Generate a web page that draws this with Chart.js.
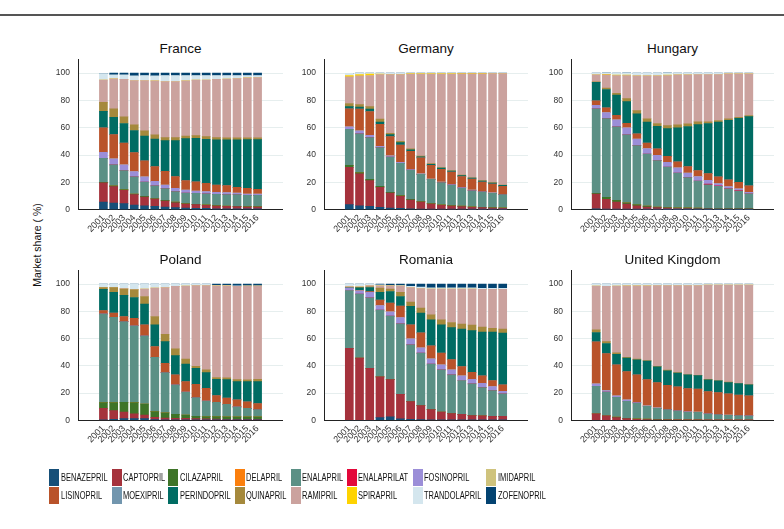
<!DOCTYPE html>
<html lang="en">
<head>
  <meta charset="UTF-8" />
  <title>ACE inhibitors market share</title>
  <script src="https://cdn.jsdelivr.net/npm/chart.js"></script>
  <style>
    body {
      margin: 0;
      width: 784px;
      height: 529px;
      background: #fff;
      font-family: 'Liberation Sans', Arial, sans-serif;
      color: #111;
      position: relative;
      overflow: hidden;
    }
    .frame-top {
      position: absolute;
      left: 0;
      top: 13.5px;
      width: 784px;
      height: 2px;
      background: #555;
    }
    canvas { position: absolute; }
    .titulo {
      position: absolute;
      font-size: 13.5px;
      transform: translate(-50%, -50%);
      white-space: nowrap;
    }
    .eje-y {
      position: absolute;
      left: 37px;
      top: 245px;
      font-size: 10.5px;
      white-space: nowrap;
      transform: translate(-50%, -50%) rotate(-90deg);
    }
    .ley-caja {
      position: absolute;
      width: 10px;
      height: 17px;
    }
    .ley-texto {
      position: absolute;
      font-size: 11px;
      line-height: 17px;
      white-space: nowrap;
      transform: scaleX(0.68);
      transform-origin: left center;
    }
  </style>
</head>
<body>
  <div class="frame-top"></div>
  <div class="eje-y">Market share ( %)</div>

  <script>
    const years = [2001, 2002, 2003, 2004, 2005, 2006, 2007, 2008, 2009, 2010, 2011, 2012, 2013, 2014, 2015, 2016];
    const yTicks = [0, 20, 40, 60, 80, 100];

    const drugs = ["BENAZEPRIL", "CAPTOPRIL", "CILAZAPRIL", "DELAPRIL", "ENALAPRIL", "ENALAPRILAT", "FOSINOPRIL", "IMIDAPRIL",
                   "LISINOPRIL", "MOEXIPRIL", "PERINDOPRIL", "QUINAPRIL", "RAMIPRIL", "SPIRAPRIL", "TRANDOLAPRIL", "ZOFENOPRIL"];
    const drugColors = ["#164f78", "#a5323c", "#3e7428", "#fb7f0d", "#5b9085", "#e3073a", "#9b8ed8", "#cfc37d",
                        "#b9532a", "#7296ae", "#006c63", "#a5893c", "#cba29e", "#fed300", "#d4e6ee", "#034371"];

    // cuota de mercado (%) por país, solo los principios presentes
    const france = {
      BENAZEPRIL:   [5.6, 4.9, 4.4, 3.4, 2.9, 2.4, 2, 1.5, 1.2, 1, 1, 0.7, 0.7, 0.7, 0.7, 0.7],
      CAPTOPRIL:    [14, 12, 9.8, 7.6, 6.4, 5.4, 4.4, 3.6, 3, 2.7, 2.2, 2, 1.7, 1.5, 1.3, 1.2],
      CILAZAPRIL:   [0.5, 0.5, 0.5, 0.5, 0.5, 0.4, 0.4, 0.4, 0.3, 0.3, 0.3, 0.3, 0.3, 0.3, 0.3, 0.3],
      ENALAPRIL:    [17.5, 15.4, 13.9, 12.5, 10.5, 9.2, 8.6, 7.7, 7.7, 8, 8.2, 8.2, 8.3, 8.5, 8.2, 8.3],
      FOSINOPRIL:   [4.4, 4.4, 4.2, 3.9, 3.7, 3.4, 2.7, 2.4, 2.2, 1.7, 1.5, 1.5, 1.5, 1.2, 1, 1],
      LISINOPRIL:   [18, 17.8, 15.9, 13.9, 11.7, 10.7, 10, 8.6, 6.9, 6.8, 6.1, 5.4, 5.1, 4.2, 4.1, 3.4],
      PERINDOPRIL:  [12, 12.7, 14.4, 16.2, 18.3, 20.3, 22.5, 26.4, 30.8, 31.8, 32.3, 33, 33.5, 34.7, 35.7, 36.4],
      QUINAPRIL:    [6.6, 6.1, 4.9, 4.1, 3.7, 3, 2.2, 2.2, 1.9, 2, 1.9, 1.7, 1.5, 1.5, 1.3, 1.3],
      RAMIPRIL:     [16.4, 22, 27.4, 32.5, 36.9, 39.6, 41.1, 41.1, 40.4, 40.6, 41.4, 42.6, 43, 43.5, 44, 44.2],
      TRANDOLAPRIL: [4.6, 3, 3.4, 3.4, 3.7, 3.6, 4.4, 4.4, 3.9, 3.4, 3.4, 2.9, 2.7, 2.2, 1.7, 1.5],
      ZOFENOPRIL:   [0, 1.2, 1.2, 2, 1.7, 2, 1.7, 1.7, 1.7, 1.7, 1.7, 1.7, 1.7, 1.7, 1.7, 1.7]
    };

    const germany = {
      BENAZEPRIL:   [3.7, 2.9, 2.4, 1.7, 1.2, 1, 0.7, 0.5, 0.4, 0.3, 0.3, 0.3, 0.2, 0.2, 0.2, 0.2],
      CAPTOPRIL:    [27.3, 23.3, 18.9, 14.7, 11, 8.8, 6.4, 5.1, 3.8, 2.9, 2.4, 2, 1.6, 1.3, 1, 0.8],
      CILAZAPRIL:   [1.5, 0.9, 0.9, 0.7, 0.5, 0.5, 0.5, 0.3, 0.3, 0.3, 0.3, 0.3, 0.3, 0.3, 0.3, 0.3],
      ENALAPRIL:    [26.4, 28.4, 30.6, 28.4, 25.9, 23.7, 21.5, 20, 17.7, 16.3, 15.1, 13.3, 11.8, 11.2, 10.5, 9.7],
      FOSINOPRIL:   [1.7, 2.2, 1.7, 1, 0.8, 0.7, 0.5, 0.3, 0.3, 0.5, 0.4, 0.4, 0.4, 0.3, 0.3, 0.2],
      LISINOPRIL:   [13.2, 15.9, 17.4, 16.1, 14.1, 12.7, 13.2, 11.7, 10, 9.3, 9.1, 7.9, 8.2, 7, 6.5, 5.9],
      PERINDOPRIL:  [1.7, 1.5, 1.7, 1.5, 1.5, 1.7, 1, 0.8, 0.8, 0.8, 0.7, 0.8, 0.6, 0.7, 0.7, 0.7],
      QUINAPRIL:    [2.3, 1.9, 1.9, 2.2, 1, 1, 0.7, 0.5, 0.5, 0.5, 0.4, 0.4, 0.3, 0.3, 0.3, 0.2],
      RAMIPRIL:     [19.5, 21, 22.8, 32.7, 43, 48.9, 54.8, 60.1, 65.5, 68.4, 70.7, 74.1, 76.1, 78.2, 79.8, 81.7],
      SPIRAPRIL:    [1, 1, 1, 0.3, 0.2, 0.2, 0.4, 0.4, 0.4, 0.4, 0.3, 0.3, 0.3, 0.3, 0.1, 0],
      TRANDOLAPRIL: [1.5, 1, 0.7, 0.7, 0.8, 0.8, 0.3, 0.3, 0.3, 0.3, 0.3, 0.2, 0.2, 0.2, 0.3, 0.3]
    };

    const hungary = {
      BENAZEPRIL:   [0.7, 0.3, 0.3, 0.3, 0.2, 0.2, 0.2, 0.1, 0.1, 0.1, 0.1, 0.1, 0.1, 0.1, 0.1, 0.1],
      CAPTOPRIL:    [10.8, 7.3, 5.3, 3.9, 2.7, 1.8, 1.3, 1, 0.8, 0.7, 0.6, 0.5, 0.4, 0.3, 0.3, 0.3],
      CILAZAPRIL:   [0.5, 1.4, 1.2, 0.9, 0.9, 0.6, 0.5, 0.4, 0.5, 0.5, 0.4, 0.4, 0.4, 0.4, 0.4, 0.4],
      ENALAPRIL:    [61.8, 57.7, 53.8, 49.7, 43.1, 38.2, 33.9, 29.8, 25.5, 22.2, 19.9, 17.3, 16.2, 14.4, 12.9, 10.9],
      ENALAPRILAT:  [0, 0, 0, 0, 0, 0, 0, 0, 0, 0, 0, 0.5, 0.4, 0.3, 0.3, 0],
      FOSINOPRIL:   [2.7, 4.4, 5.2, 5.1, 4.9, 3.9, 4, 3.4, 3.7, 3.4, 3.2, 2.7, 1.6, 1.4, 1.2, 1],
      LISINOPRIL:   [3.2, 3.5, 3.4, 3.4, 3.7, 4, 4.6, 4.4, 4.4, 4.6, 4.4, 4.9, 4.9, 4.9, 4.8, 4.7],
      PERINDOPRIL:  [13.5, 13.4, 14.7, 15.9, 14.7, 15.4, 16.6, 20.3, 24.9, 29.4, 33.7, 36.7, 40.1, 43.7, 47, 50.8],
      QUINAPRIL:    [0.5, 1, 1.4, 2.2, 2.4, 2.4, 2, 2.2, 2.2, 1.9, 2, 1.2, 1.2, 1, 0.7, 0.8],
      RAMIPRIL:     [5.1, 9.8, 13, 16.9, 25.4, 31.5, 34.9, 36.7, 36.7, 36, 34.7, 34.7, 33.7, 33, 31.8, 30.5],
      SPIRAPRIL:    [0, 0.3, 0.3, 0.2, 0, 0, 0, 0.3, 0, 0, 0, 0, 0, 0, 0, 0],
      TRANDOLAPRIL: [1.2, 1.2, 1.4, 1.7, 2, 2, 2, 1.7, 1.2, 1.2, 1, 1, 1, 0.5, 0.5, 0.5]
    };

    const poland = {
      BENAZEPRIL:   [0.2, 0.8, 1.2, 1.2, 1.2, 0.5, 0.3, 0.2, 0.2, 0.2, 0.2, 0.2, 0.2, 0.2, 0.2, 0.2],
      CAPTOPRIL:    [8.6, 6.3, 4.9, 3.5, 2.7, 1.7, 1.4, 1.3, 1.2, 1, 0.8, 0.7, 0.6, 0.5, 0.5, 0.5],
      CILAZAPRIL:   [4.2, 5.9, 7.1, 8.3, 8.1, 4.2, 3.7, 2.9, 2.5, 1.7, 1.7, 1.8, 1.7, 1.8, 1.8, 1.8],
      ENALAPRIL:    [65.2, 62.7, 59.3, 56.4, 50, 39.9, 29.6, 21.6, 16.9, 13.8, 11.5, 10.5, 9.3, 7.3, 6.3, 5.3],
      LISINOPRIL:   [2.4, 3, 3.7, 5.4, 8.1, 7.9, 6.9, 7.3, 7.6, 9.8, 9.3, 4.9, 4.6, 5.2, 4.7, 4.5],
      PERINDOPRIL:  [15.5, 15.2, 15.5, 15.4, 15.2, 15.9, 15.9, 14.2, 12.8, 11.7, 11.5, 12, 13.5, 13.4, 14.9, 16.1],
      QUINAPRIL:    [1.4, 3.6, 4.6, 5.6, 5.6, 6.1, 5.4, 5, 3.7, 1.5, 2, 1.3, 1.2, 1.5, 1.3, 1.7],
      RAMIPRIL:     [0, 0, 0.5, 0.2, 5.4, 20.9, 34.3, 45.8, 53.6, 59.3, 62, 67.4, 67.7, 68.4, 68.8, 68.4],
      TRANDOLAPRIL: [2.5, 2.5, 3.2, 4, 3.7, 2.9, 2.5, 1.7, 1.5, 1, 1, 0.3, 0.3, 0.5, 0.3, 0.3],
      ZOFENOPRIL:   [0, 0, 0, 0, 0, 0, 0, 0, 0, 0, 0, 0.9, 0.9, 1.2, 1.2, 1.2]
    };

    const romania = {
      BENAZEPRIL:   [0, 0, 0, 2, 2.5, 1, 0.7, 0.5, 0.3, 0.2, 0.2, 0.2, 0.2, 0.2, 0.2, 0.2],
      CAPTOPRIL:    [52.9, 45.6, 38.2, 29.9, 27.4, 18.1, 13, 10.3, 7.5, 5.9, 4.7, 4.2, 3.2, 3, 2.7, 2.7],
      ENALAPRIL:    [42.4, 47, 51.8, 49, 46.6, 51.7, 41.7, 38.5, 33.4, 30.9, 28.4, 24.8, 23.3, 20.8, 18.9, 16.5],
      FOSINOPRIL:   [1.8, 2.5, 3.9, 3.4, 3.2, 4.7, 4.4, 3.9, 3.9, 3.7, 3.7, 3.4, 3.4, 3.2, 3, 1.9],
      LISINOPRIL:   [0, 0.4, 0.7, 3.9, 6.3, 8.3, 10.3, 11, 9.6, 8.6, 7.6, 6.9, 5.2, 5.4, 4.4, 4.7],
      PERINDOPRIL:  [0.6, 1.8, 2.9, 5.7, 8.6, 7.1, 13.5, 14.5, 19.1, 20.8, 23.5, 27.4, 30.6, 32.1, 35.5, 38],
      QUINAPRIL:    [0, 0.3, 0.5, 3.2, 1.7, 3, 3.2, 3.7, 3.7, 3.7, 3.7, 3.7, 4, 3.7, 2.9, 2.9],
      RAMIPRIL:     [0.5, 0.5, 1, 1.7, 2.5, 4.6, 10.7, 14.4, 18.8, 22.5, 24.5, 25.7, 26.4, 27.7, 28.5, 29.2],
      TRANDOLAPRIL: [1.8, 1.9, 1, 0.7, 0.2, 0.5, 0.8, 1, 1, 1, 1, 1, 0.9, 0.8, 0.8, 0.8],
      ZOFENOPRIL:   [0, 0, 0, 0.5, 1, 1, 1.7, 2.2, 2.7, 2.7, 2.7, 2.7, 2.8, 3.1, 3.1, 3.1]
    };

    const uk = {
      CAPTOPRIL:    [4.7, 3.2, 2, 1.2, 0.8, 0.5, 0.4, 0.3, 0.2, 0.2, 0.2, 0.1, 0.1, 0.1, 0.1, 0.1],
      CILAZAPRIL:   [0, 0, 0.4, 0.3, 0.3, 0.4, 0.3, 0.2, 0.2, 0.1, 0.1, 0.1, 0.1, 0.1, 0.1, 0.1],
      ENALAPRIL:    [20.3, 17.6, 14.5, 12.5, 11.6, 9.4, 8.1, 7.3, 6.5, 5.8, 5.6, 4.5, 4, 3.5, 3.2, 3],
      FOSINOPRIL:   [1.7, 1, 1, 1, 0.5, 0.4, 0.4, 0.3, 0.3, 0.3, 0.2, 0.2, 0.2, 0.2, 0.2, 0.2],
      LISINOPRIL:   [30.9, 27.2, 22.8, 20.8, 20.1, 19.2, 18.5, 17.6, 17.3, 16.9, 16.9, 16.2, 15.9, 15.5, 15, 14.5],
      PERINDOPRIL:  [6.9, 7.4, 7.8, 9.8, 11.1, 13.5, 11.5, 10.6, 10.1, 10, 9.8, 8.6, 8.6, 8.3, 8.4, 8.1],
      QUINAPRIL:    [1.9, 1.4, 1, 0.7, 0.5, 0.4, 0.5, 0.5, 0.4, 0.3, 0.3, 0.3, 0.3, 0.3, 0.2, 0.2],
      RAMIPRIL:     [32.1, 40.5, 49, 52.5, 53.9, 55, 59.3, 62.2, 64, 65.4, 65.9, 69.3, 70.1, 71.3, 72.1, 73.1],
      TRANDOLAPRIL: [1.5, 1.7, 1.5, 1.2, 1.2, 1.2, 1, 1, 1, 1, 1, 0.7, 0.7, 0.7, 0.7, 0.7]
    };

    // posición de cada panel: eje y, borde derecho, fila
    const paneles = [
      { titulo: "France",         datos: france,  ejeX: 78,  der: 283, fila: 0 },
      { titulo: "Germany",        datos: germany, ejeX: 324, der: 528, fila: 0 },
      { titulo: "Hungary",        datos: hungary, ejeX: 571, der: 774, fila: 0 },
      { titulo: "Poland",         datos: poland,  ejeX: 78,  der: 283, fila: 1 },
      { titulo: "Romania",        datos: romania, ejeX: 324, der: 528, fila: 1 },
      { titulo: "United Kingdom", datos: uk,      ejeX: 571, der: 774, fila: 1 }
    ];
    const filas = [
      { tituloY: 48,  canvasTop: 55,  arriba: 59.5, abajo: 209.7 },
      { tituloY: 259, canvasTop: 266, arriba: 270.5, abajo: 420.3 }
    ];

    const FUENTE = "'Liberation Sans', Arial, sans-serif";
    const ANCHO_EJE_Y = 50;
    const ALTO_CANVAS = 200;

    function dibujarPanel(p) {
      const f = filas[p.fila];
      const izq = p.ejeX - ANCHO_EJE_Y;
      const ancho = p.der - izq;
      const padTop = f.arriba - f.canvasTop;
      const altoEjeX = ALTO_CANVAS - padTop - (f.abajo - f.arriba);

      const t = document.createElement("div");
      t.className = "titulo";
      t.textContent = p.titulo;
      t.style.left = ((p.ejeX + p.der) / 2) + "px";
      t.style.top = f.tituloY + "px";
      document.body.appendChild(t);

      const c = document.createElement("canvas");
      c.style.left = izq + "px";
      c.style.top = f.canvasTop + "px";
      c.style.width = ancho + "px";
      c.style.height = ALTO_CANVAS + "px";
      c.width = ancho;
      c.height = ALTO_CANVAS;
      document.body.appendChild(c);

      const datasets = drugs.map((d, i) => ({
        label: d,
        data: years.map((y, j) => ({ x: y, y: (p.datos[d] || [])[j] || 0 })),
        backgroundColor: drugColors[i],
        borderWidth: 0,
        barThickness: 8,
        stack: "s"
      }));

      new Chart(c.getContext("2d"), {
        type: "bar",
        data: { datasets },
        options: {
          responsive: false,
          animation: false,
          layout: { padding: { top: padTop, left: 0, right: 0, bottom: 0 } },
          plugins: { legend: { display: false }, tooltip: { enabled: false }, title: { display: false } },
          scales: {
            x: {
              type: "linear",
              min: 1999.15,
              max: 2017.85,
              stacked: true,
              afterBuildTicks: s => { s.ticks = years.map(v => ({ value: v })); },
              afterFit: s => { s.height = altoEjeX; s.paddingLeft = 0; s.paddingRight = 0; },
              grid: { display: false, drawTicks: false },
              border: { display: true, color: "#222", width: 1 },
              ticks: {
                autoSkip: false,
                minRotation: 45,
                maxRotation: 45,
                padding: 3,
                color: "#333",
                font: { family: FUENTE, size: 9 },
                callback: v => String(v)
              }
            },
            y: {
              min: 0,
              max: 110,
              stacked: true,
              afterBuildTicks: s => { s.ticks = yTicks.map(v => ({ value: v })); },
              afterFit: s => { s.width = ANCHO_EJE_Y; s.paddingTop = 0; s.paddingBottom = 0; },
              grid: { color: "#e6eeee", lineWidth: 1, drawTicks: false },
              border: { display: true, color: "#222", width: 1 },
              ticks: { padding: 8, color: "#333", font: { family: FUENTE, size: 8.5 } }
            }
          }
        }
      });
    }

    paneles.forEach(dibujarPanel);

    // leyenda en 2 filas x 8 columnas
    const colX = [49, 111.7, 168.3, 234.7, 290.7, 346.7, 412.7, 486];
    const filaY = [469, 487];
    drugs.forEach((d, i) => {
      const x = colX[i % 8];
      const y = filaY[Math.floor(i / 8)];
      const caja = document.createElement("div");
      caja.className = "ley-caja";
      caja.style.left = x + "px";
      caja.style.top = y + "px";
      caja.style.background = drugColors[i];
      document.body.appendChild(caja);
      const txt = document.createElement("div");
      txt.className = "ley-texto";
      txt.style.left = (x + 11.5) + "px";
      txt.style.top = y + "px";
      txt.textContent = d;
      document.body.appendChild(txt);
    });
  </script>
</body>
</html>
